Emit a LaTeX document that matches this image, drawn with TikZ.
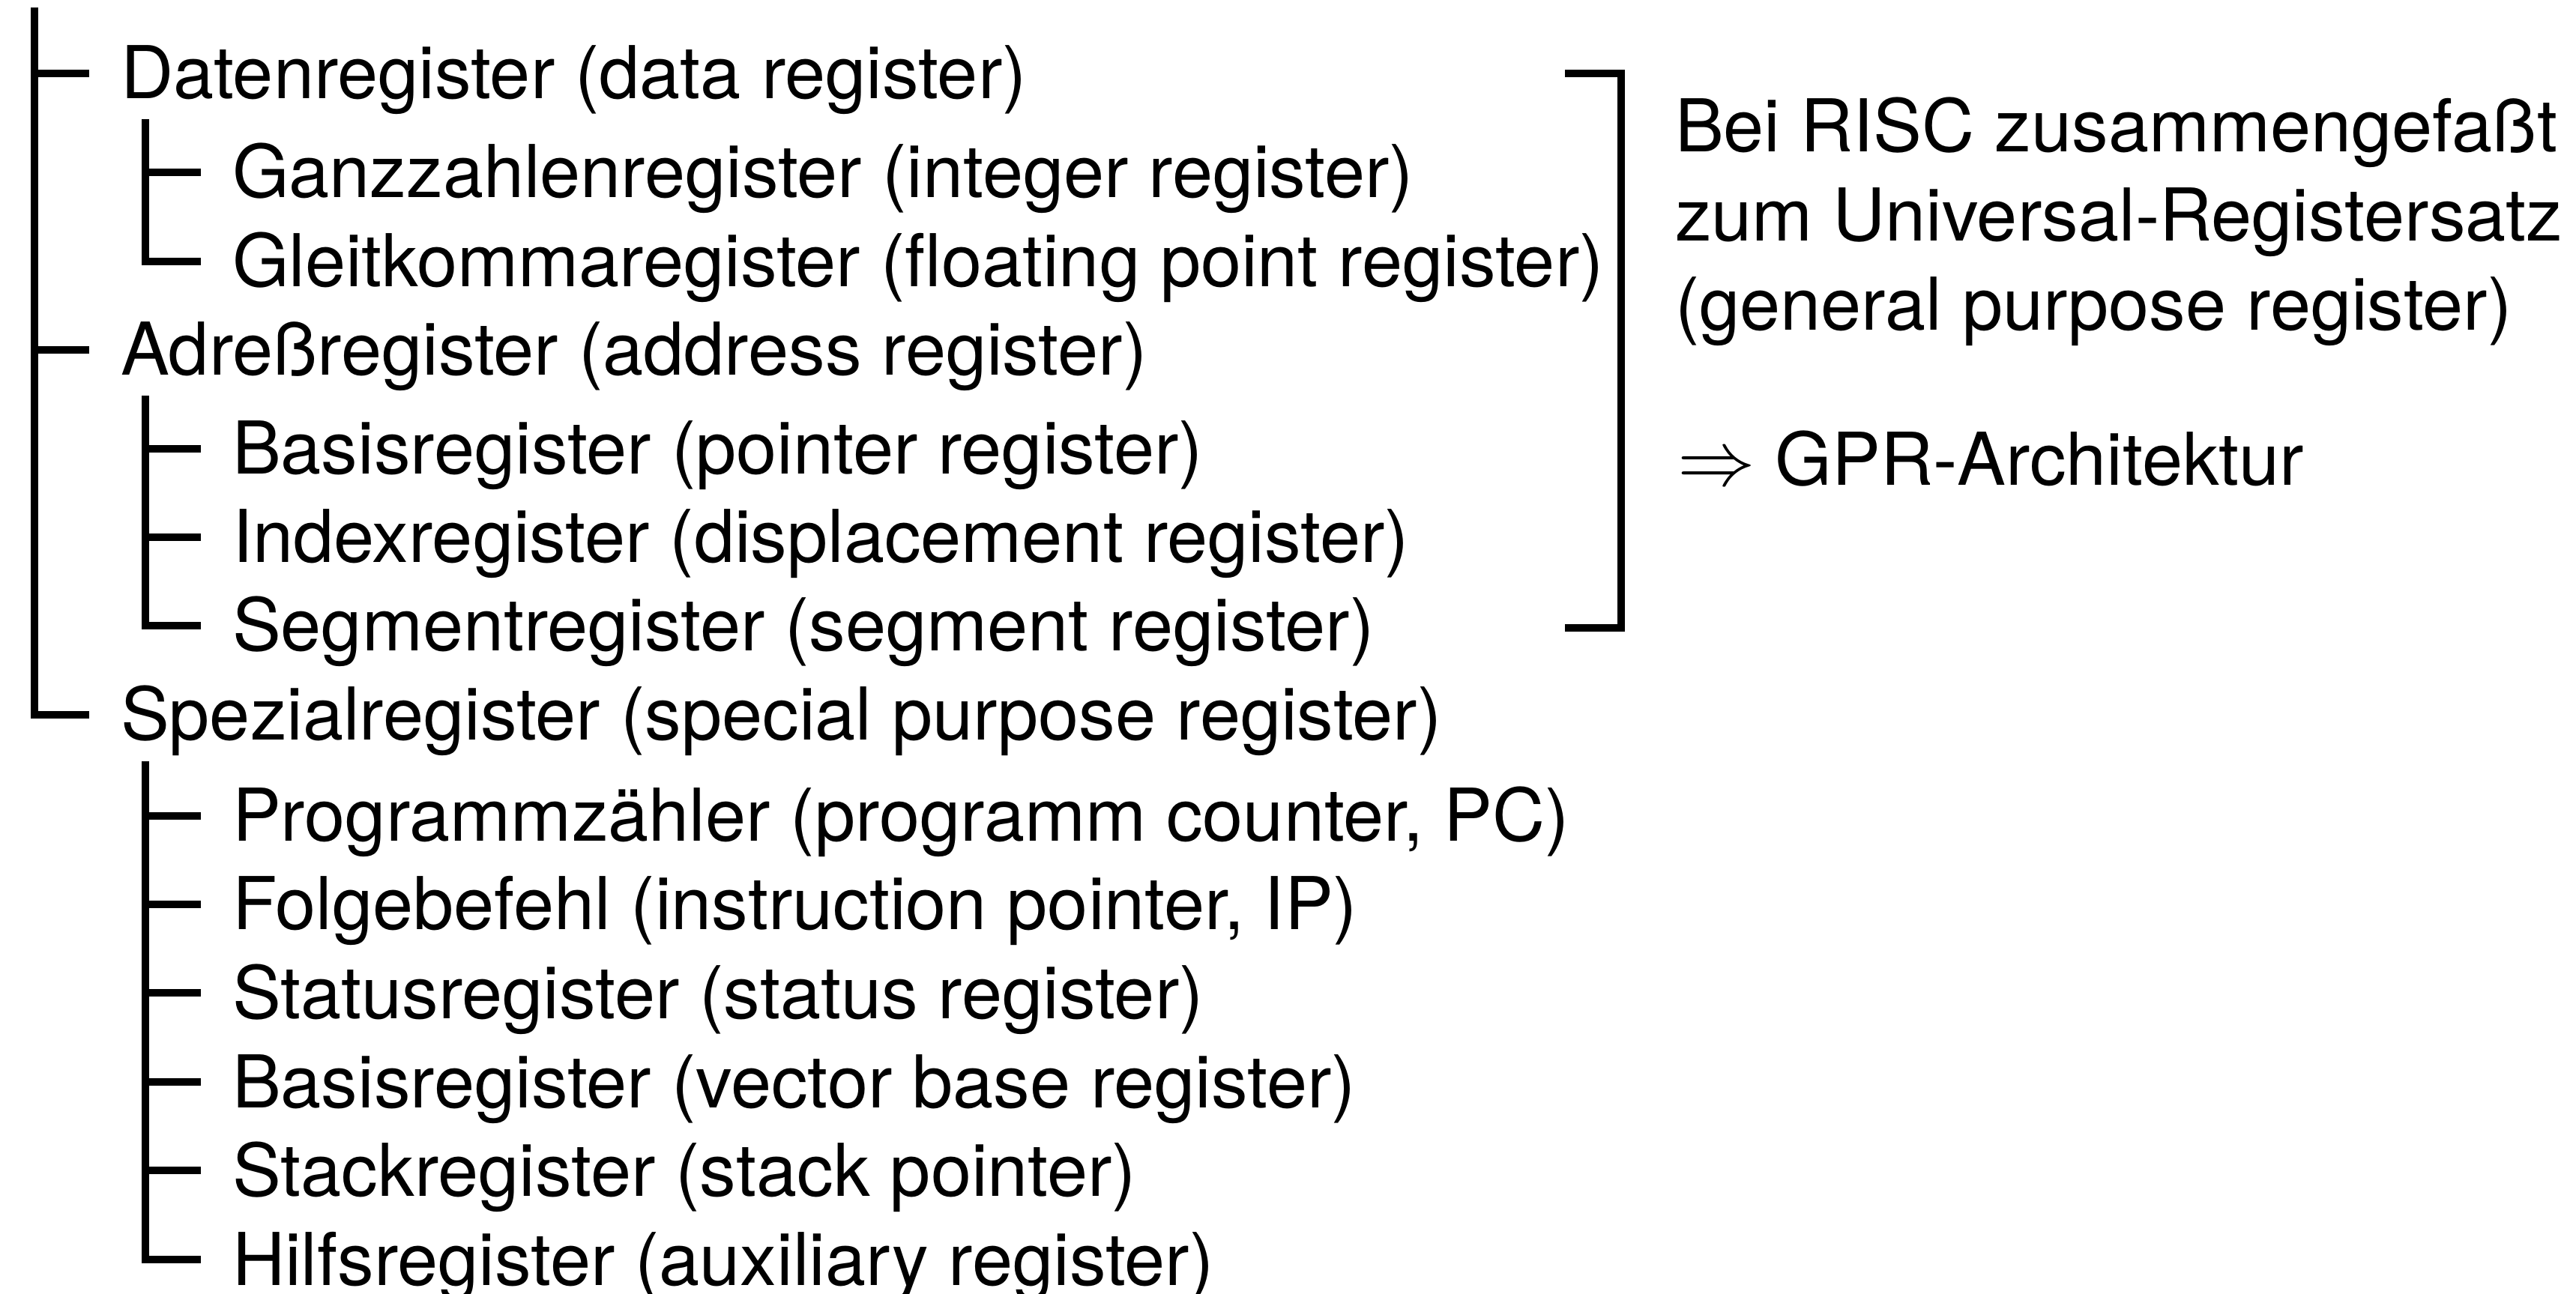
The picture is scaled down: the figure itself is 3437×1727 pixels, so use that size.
\documentclass[tikz,border=0pt]{standalone}
\usepackage{fontspec}
\setmainfont{TeX Gyre Heros}
\begin{document}
\begin{tikzpicture}[x=0.2pt,y=-0.2pt,
  treeline/.style={line width=2.1pt, line join=miter, line cap=butt},
  tick/.style={treeline, shorten >=8.2pt},
  entry/.style={anchor=west, inner sep=0pt, text height=13.6pt, text depth=0pt,
    font=\fontsize{19.45}{23}\selectfont},
  note/.style={anchor=base west, inner sep=0pt, font=\fontsize{19.45}{23}\selectfont}]
\useasboundingbox (0,0) rectangle (3437,1727);

% first level
\node[entry] (daten) at (160,98)  {Datenregister (data register)};
\node[entry] (adr)   at (160,467) {Adreßregister (address register)};
\node[entry] (spez)  at (160,954) {Spezialregister (special purpose register)};

% data registers
\node[entry] (ganz)  at (309,230) {Ganzzahlenregister (integer register)};
\node[entry] (gleit) at (309,349) {Gleitkommaregister (floating point register)};

% address registers
\node[entry] (basis) at (309,599) {Basisregister (pointer register)};
\node[entry] (index) at (309,717) {Indexregister (displacement register)};
\node[entry] (segm)  at (309,835) {Segmentregister (segment register)};

% special purpose registers
\node[entry] (pc)    at (309,1089) {Programmzähler (programm counter, PC)};
\node[entry] (ip)    at (309,1207) {Folgebefehl (instruction pointer, IP)};
\node[entry] (stat)  at (309,1325) {Statusregister (status register)};
\node[entry] (vbr)   at (309,1444) {Basisregister (vector base register)};
\node[entry] (stack) at (309,1562) {Stackregister (stack pointer)};
\node[entry] (hilf)  at (309,1681) {Hilfsregister (auxiliary register)};

% trunk of the tree
\coordinate (trunk) at (46,10);
\draw[tick] (trunk) |- (spez.west);
\draw[tick] (trunk |- daten.west) -- (daten.west);
\draw[tick] (trunk |- adr.west) -- (adr.west);

% branch: data registers
\coordinate (dtop) at (194,159);
\draw[tick] (dtop) |- (gleit.west);
\draw[tick] (dtop |- ganz.west) -- (ganz.west);

% branch: address registers
\coordinate (atop) at (194,528);
\draw[tick] (atop) |- (segm.west);
\draw[tick] (atop |- basis.west) -- (basis.west);
\draw[tick] (atop |- index.west) -- (index.west);

% branch: special purpose registers
\coordinate (stop) at (194,1016);
\draw[tick] (stop) |- (hilf.west);
\foreach \n in {pc,ip,stat,vbr,stack}
  \draw[tick] (stop |- \n.west) -- (\n.west);

% bracket around the data and address registers
\coordinate (btop) at (2163,98);
\coordinate (bbot) at (2163,838);
\draw[treeline] ([xshift=-15pt]btop) -- (btop) -- (bbot) -- ([xshift=-15pt]bbot);

% remark beside the bracket
\node[note] (r1)  at (2234,203) {Bei RISC zusammengefaßt};
\node[note] (r2)  at (2234,322) {zum Universal-Registersatz};
\node[note] (r3)  at (2234,441) {(general purpose register)};
\node[note] (gpr) at (2237,648) {$\Rightarrow$ GPR-Architektur};
\end{tikzpicture}
\end{document}
